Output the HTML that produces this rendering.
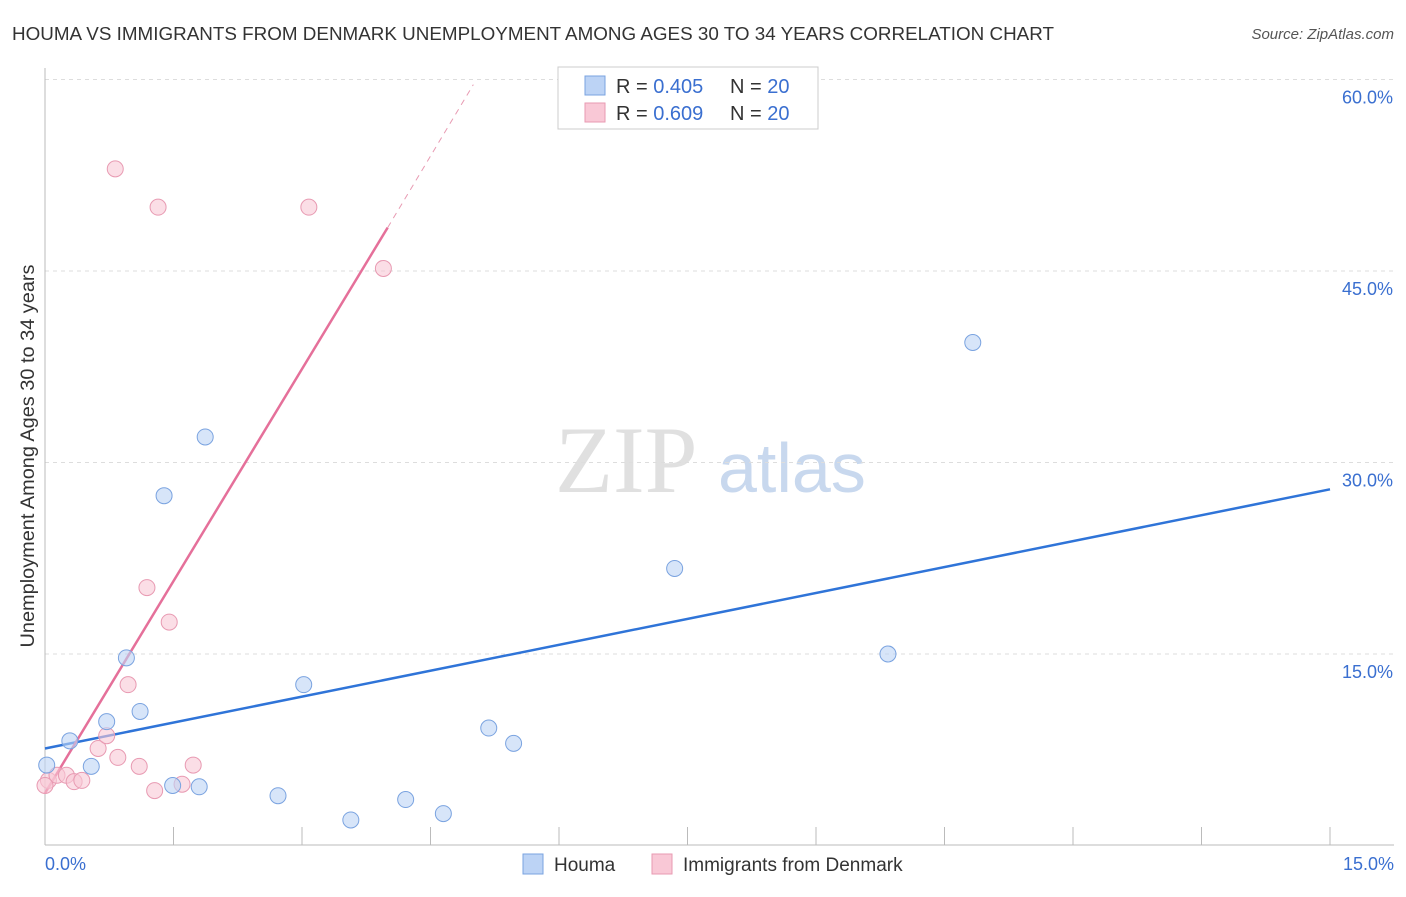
<!DOCTYPE html>
<html><head><meta charset="utf-8"><style>
body{margin:0;background:#fff;font-family:"Liberation Sans",sans-serif}
</style></head><body>
<svg width="1406" height="892" xmlns="http://www.w3.org/2000/svg">
<text x="12" y="40" font-size="18.5" textLength="1042" lengthAdjust="spacingAndGlyphs" fill="#333">HOUMA VS IMMIGRANTS FROM DENMARK UNEMPLOYMENT AMONG AGES 30 TO 34 YEARS CORRELATION CHART</text>
<text x="1394" y="39" font-size="15" fill="#555" font-style="italic" text-anchor="end">Source: ZipAtlas.com</text>
<text x="555" y="492" font-size="95" fill="#e0e0e0" font-family="Liberation Serif">ZIP</text>
<text x="718" y="492" font-size="70" fill="#c8d8ee">atlas</text>
<g id="grid"></g><g id="axes"></g><g id="lines"></g><g id="pts"></g>
<text transform="translate(34,456) rotate(-90)" font-size="19" textLength="383" lengthAdjust="spacingAndGlyphs" fill="#333" text-anchor="middle">Unemployment Among Ages 30 to 34 years</text>
<text x="45" y="870" font-size="18" fill="#3a6fd0">0.0%</text>
<text x="1394" y="870" font-size="18" fill="#3a6fd0" text-anchor="end">15.0%</text>
<g>
<rect x="558" y="67" width="260" height="62" fill="#fff" stroke="#ccc"/>
<rect x="585" y="76" width="20" height="19" fill="#bcd3f5" stroke="#7aa3e0"/>
<text x="616" y="93" font-size="20" fill="#333">R = <tspan fill="#3a6fd0">0.405</tspan></text>
<text x="730" y="93" font-size="20" fill="#333">N = <tspan fill="#3a6fd0">20</tspan></text>
<rect x="585" y="103" width="20" height="19" fill="#f9c8d6" stroke="#e89ab2"/>
<text x="616" y="120" font-size="20" fill="#333">R = <tspan fill="#3a6fd0">0.609</tspan></text>
<text x="730" y="120" font-size="20" fill="#333">N = <tspan fill="#3a6fd0">20</tspan></text>
</g>
<g>
<rect x="523" y="854" width="20" height="20" fill="#bcd3f5" stroke="#7aa3e0"/>
<text x="554" y="871" font-size="19" fill="#333">Houma</text>
<rect x="652" y="854" width="20" height="20" fill="#f9c8d6" stroke="#e89ab2"/>
<text x="683" y="871" font-size="19" fill="#333">Immigrants from Denmark</text>
</g>
</svg>
<script>
const houmaX=[0.02,0.29,0.54,0.72,0.95,1.11,1.39,1.49,1.80,1.87,2.72,3.02,3.57,4.21,4.65,5.18,5.47,7.35,9.84,10.83];
const houmaY=[6.3,8.2,6.2,9.7,14.7,10.5,27.4,4.7,4.6,32.0,3.9,12.6,2.0,3.6,2.5,9.2,8.0,21.7,15.0,39.4];
const denX=[0.04,0.14,0.25,0.34,0.43,0.62,0.72,0.85,0.82,0.97,1.10,1.19,1.28,1.32,1.45,1.60,1.73,3.08,3.95,0.0];
const denY=[5.1,5.5,5.5,5.0,5.1,7.6,8.6,6.9,53.0,12.6,6.2,20.2,4.3,50.0,17.5,4.8,6.3,50.0,45.2,4.7];
const yTicks=[15,30,45,60];
const houmaTrend=[7.6,27.9];
const denTrend=[4.1,48.4,59.6];
const X=v=>45+v/15*1285, Y=v=>845.5-v/15*191.5;
const NS="http://www.w3.org/2000/svg";
function mk(p,t,a){const e=document.createElementNS(NS,t);for(const k in a)e.setAttribute(k,a[k]);document.getElementById(p).appendChild(e);return e;}
yTicks.forEach(t=>{const l=mk('grid','line',{x1:45,x2:1394,y1:Y(t),y2:Y(t),stroke:'#ddd','stroke-dasharray':'4,4'});


const tx=mk('grid','text',{x:1393,y:Y(t)+24,'font-size':18,fill:'#3a6fd0','text-anchor':'end'});tx.textContent=t.toFixed(1)+'%';

});
const ax=mk('axes','line',{x1:45,x2:1394,y1:845,y2:845,stroke:'#bbb'});


const ay=mk('axes','line',{x1:45,x2:45,y1:68,y2:845,stroke:'#bbb'});


for(let i=1;i<=10;i++){const t=mk('axes','line',{x1:X(i*1.5),x2:X(i*1.5),y1:827,y2:845,stroke:'#bbb'});

}
let l=mk('lines','line',{x1:X(0),y1:Y(houmaTrend[0]),x2:X(15),y2:Y(houmaTrend[1]),stroke:'#2f74d8','stroke-width':2.5});


l=mk('lines','line',{x1:X(0),y1:Y(denTrend[0]),x2:X(4),y2:Y(denTrend[1]),stroke:'#e5709a','stroke-width':2.5});


l=mk('lines','line',{x1:X(4),y1:Y(denTrend[1]),x2:X(5),y2:Y(denTrend[2]),stroke:'#e89ab2','stroke-width':1,'stroke-dasharray':'6,5'});


denX.forEach((x,i)=>{const c=mk('pts','circle',{cx:X(x),cy:Y(denY[i]),r:8,fill:'rgba(249,200,214,0.6)',stroke:'#e89ab2'});

});
houmaX.forEach((x,i)=>{const c=mk('pts','circle',{cx:X(x),cy:Y(houmaY[i]),r:8,fill:'rgba(188,211,245,0.6)',stroke:'#7aa3e0'});

});
</script>
</body></html>
